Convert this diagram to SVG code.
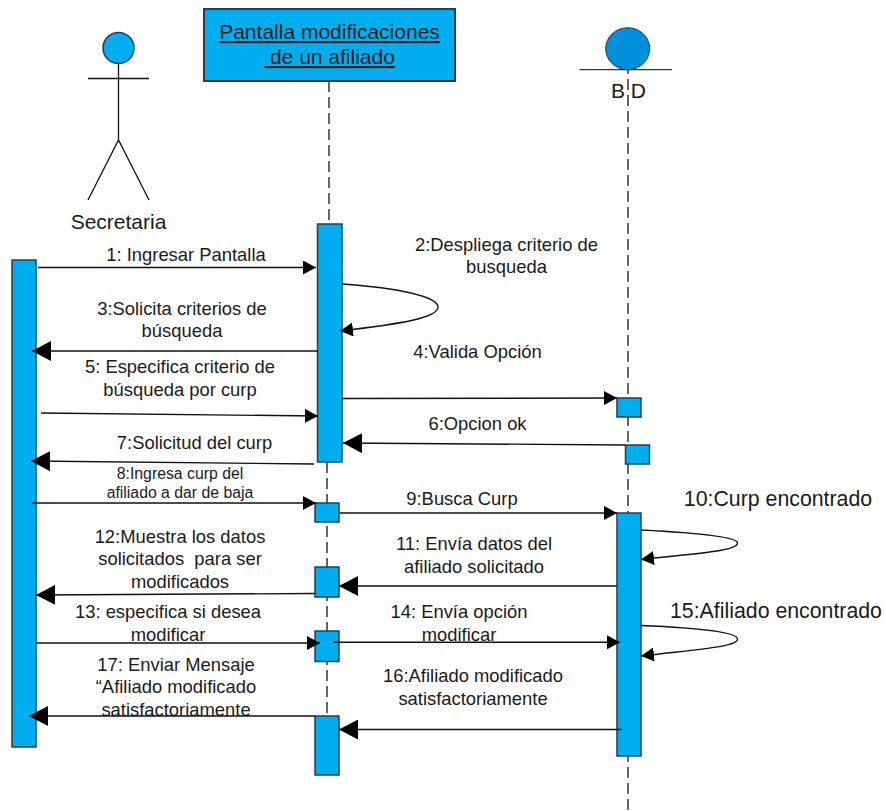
<svg xmlns="http://www.w3.org/2000/svg" width="886" height="811" viewBox="0 0 886 811">
<style>
text{font-family:"Liberation Sans",Arial,sans-serif;fill:#1a1a1a;text-anchor:middle;white-space:pre}
.m{font-size:18.400px}.s{font-size:15.800px}.l{font-size:21px}.x{font-size:21.300px}
.a{fill:#00aeef;stroke:#1f3f55;stroke-width:1.500}
.c{fill:none;stroke:#111;stroke-width:1.400}
.sm{marker-end:url(#hs)}.bg{marker-end:url(#hb)}
.d{fill:none;stroke:#333;stroke-width:1.500;stroke-dasharray:11 5}
.t{fill:none;stroke:#111;stroke-width:1.300}
</style>
<defs>
<marker id="hs" markerUnits="userSpaceOnUse" markerWidth="13" markerHeight="14" refX="13" refY="7" orient="auto"><path d="M0 0L13 7L0 14Z" fill="#000"/></marker>
<marker id="hb" markerUnits="userSpaceOnUse" markerWidth="19" markerHeight="20" refX="19" refY="10" orient="auto"><path d="M0 0L19 10L0 20L0 0Z" fill="#000"/></marker>
</defs>
<g id="lifelines">
<path class="d" d="M329 81V224"/>
<path class="d" d="M327 462V716"/>
<path class="d" d="M628 63V811"/>
</g>
<g id="secretaria">
<circle cx="118.500" cy="48" r="15.500" class="a"/>
<path class="t" d="M118.500 63.500V140M88 78.500H149M88 200L118.500 140L149 200"/>
<text class="l" x="118.500" y="229">Secretaria</text>
</g>
<g id="pantalla">
<rect class="a" x="204" y="9" width="251" height="72" style="stroke-width:2"/>
<text class="l" x="329.500" y="39" text-decoration="underline">Pantalla modificaciones</text>
<text class="l" x="329.500" y="64" text-decoration="underline"> de un afiliado</text>
</g>
<g id="bd">
<ellipse cx="627.700" cy="48.700" rx="22" ry="21" fill="#0090dc" stroke="#234" stroke-width="1"/>
<path d="M579.500 69.700H672" stroke="#333" stroke-width="1.300" fill="none"/>
<text class="l" x="628.500" y="98">B D</text>
</g>
<g id="activaciones">
<rect class="a" x="12" y="260" width="24" height="487"/>
<rect class="a" x="317.500" y="224" width="24.500" height="238"/>
<rect class="a" x="315" y="503" width="24" height="19"/>
<rect class="a" x="315" y="567" width="24" height="30"/>
<rect class="a" x="315" y="631" width="24" height="30.500"/>
<rect class="a" x="315" y="716" width="24" height="59"/>
<rect class="a" x="617" y="398" width="24" height="19"/>
<rect class="a" x="625.500" y="445" width="24" height="19"/>
<rect class="a" x="617" y="513" width="24" height="243"/>
</g>
<g id="conectores">
<path class="c sm" d="M38 267.500H316"/>
<path class="c sm" d="M342 284C400 288 438 297 438 307C438 318 400 324 340 331"/>
<path class="c bg" d="M318 351H32"/>
<path class="c sm" d="M342 398.500L617 398"/>
<path class="c sm" d="M41 413L318 416"/>
<path class="c bg" d="M625 445L343 443"/>
<path class="c bg" d="M314 464L31 461"/>
<path class="c sm" d="M32 503H316"/>
<path class="c sm" d="M340 513H617"/>
<path class="c sm" d="M641 530C700 533 737.500 537 737.500 543C737.500 551 700 553 641 559.500"/>
<path class="c bg" d="M617 586H339"/>
<path class="c bg" d="M315 593.500L36 595"/>
<path class="c sm" d="M641 625.500C700 628 737.500 632 737.500 639C737.500 647 700 649 641 656"/>
<path class="c sm" d="M36 643H320"/>
<path class="c sm" d="M334 642.300H620"/>
<path class="c bg" d="M315 716H29"/>
<path class="c bg" d="M622 729.500H339"/>
</g>
<g id="etiquetas">
<text class="m" x="186" y="261">1: Ingresar Pantalla</text>
<text class="m" x="506.500" y="250.500">2:Despliega criterio de</text>
<text class="m" x="506.500" y="272.500">busqueda</text>
<text class="m" x="182" y="315">3:Solicita criterios de</text>
<text class="m" x="182" y="336.700">búsqueda</text>
<text class="m" x="477.500" y="357.500">4:Valida Opción</text>
<text class="m" x="180" y="373">5: Especifica criterio de</text>
<text class="m" x="180" y="396">búsqueda por curp</text>
<text class="m" x="477.500" y="430">6:Opcion ok</text>
<text class="m" x="194.500" y="449">7:Solicitud del curp</text>
<text class="s" x="180" y="479">8:Ingresa curp del</text>
<text class="s" x="180" y="497.500">afiliado a dar de baja</text>
<text class="m" x="462" y="505">9:Busca Curp</text>
<text class="x" x="778" y="505.500">10:Curp encontrado</text>
<text class="m" x="474" y="550">11: Envía datos del</text>
<text class="m" x="474" y="572.500">afiliado solicitado</text>
<text class="m" x="180" y="543">12:Muestra los datos</text>
<text class="m" x="180" y="565">solicitados  para ser</text>
<text class="m" x="180" y="587.500">modificados</text>
<text class="m" x="168" y="618">13: especifica si desea</text>
<text class="m" x="168" y="640.500">modificar</text>
<text class="m" x="459" y="617.500">14: Envía opción</text>
<text class="m" x="459" y="640.500">modificar</text>
<text class="x" x="776" y="618">15:Afiliado encontrado</text>
<text class="m" x="473" y="681.500">16:Afiliado modificado</text>
<text class="m" x="473" y="705">satisfactoriamente</text>
<text class="m" x="176" y="670.500">17: Enviar Mensaje</text>
<text class="m" x="176" y="693">“Afiliado modificado</text>
<text class="m" x="176" y="715.500">satisfactoriamente</text>
</g>
</svg>
